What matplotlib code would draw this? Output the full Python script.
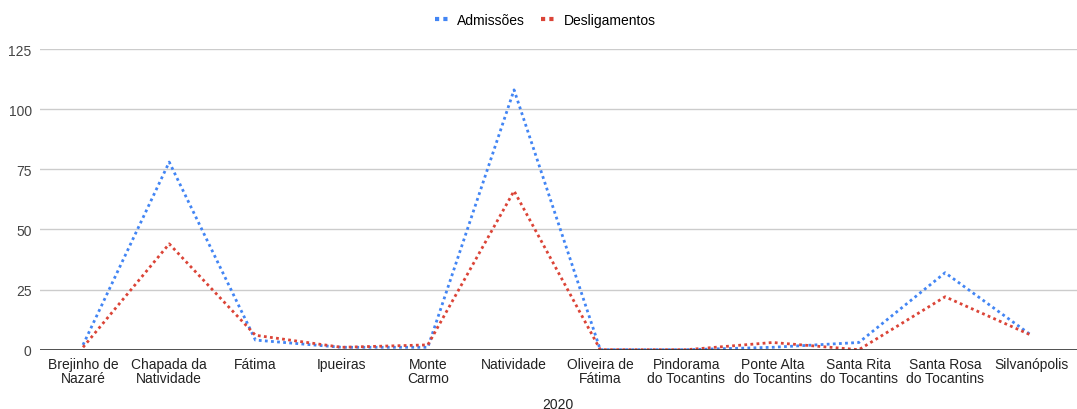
import matplotlib
matplotlib.use("Agg")
import matplotlib.pyplot as plt
from matplotlib.lines import Line2D

plt.rcParams['font.family'] = ['Liberation Sans', 'DejaVu Sans']

categories = ["Brejinho de\nNazaré", "Chapada da\nNatividade", "Fátima", "Ipueiras",
              "Monte\nCarmo", "Natividade", "Oliveira de\nFátima", "Pindorama\ndo Tocantins",
              "Ponte Alta\ndo Tocantins", "Santa Rita\ndo Tocantins", "Santa Rosa\ndo Tocantins",
              "Silvanópolis"]
admissoes = [2, 78, 4, 1, 1, 108, 0, 0, 1, 3, 32, 6]
desligamentos = [1, 44, 6, 1, 2, 66, 0, 0, 3, 0, 22, 6]
yticks = [0, 25, 50, 75, 100, 125]
blue = "#4285F4"
red = "#DB4437"

fig = plt.figure(figsize=(10.77, 4.10), dpi=100)
ax = fig.add_axes([40/1077, 59.3/410, (1077-40)/1077, (350.7-50)/410])
x = list(range(len(categories)))
ax.plot(x, admissoes, linestyle=(0, (1, 1.2)), color=blue, lw=2)
ax.plot(x, desligamentos, linestyle=(0, (1, 1.2)), color=red, lw=2)

ax.set_xlim(-0.499, 11.53)
ax.set_ylim(0, 125)
ax.set_yticks(yticks)
ax.set_xticks(x)
ax.set_xticklabels(categories, fontsize=10, color="#222222", linespacing=1.0)
ax.tick_params(axis='y', labelsize=10, colors="#444444", length=0, pad=6)
ax.tick_params(axis='x', length=0, pad=5)
for t in ax.get_yticklabels():
    t.set_color("#444444")
for s in ax.spines.values():
    s.set_visible(False)
ax.grid(axis='y', color="#cccccc", lw=1)
ax.axhline(0, color="#333333", lw=1.2, zorder=3)
ax.set_axisbelow(True)

fig.text(558/1077, 1 - 405/410, "2020", fontsize=10, color="#222222", ha='center', va='center')

handles = [Line2D([0], [0], color=blue, lw=3, linestyle=(0, (1, 1))),
           Line2D([0], [0], color=red, lw=3, linestyle=(0, (1, 1)))]
fig.legend(handles, ["Admissões", "Desligamentos"], loc='center', bbox_to_anchor=(545/1077, 1 - 21/410),
           ncol=2, frameon=False, fontsize=10, handlelength=1.0, columnspacing=1.2, handletextpad=0.6)

fig.savefig("out.png", dpi=100)
